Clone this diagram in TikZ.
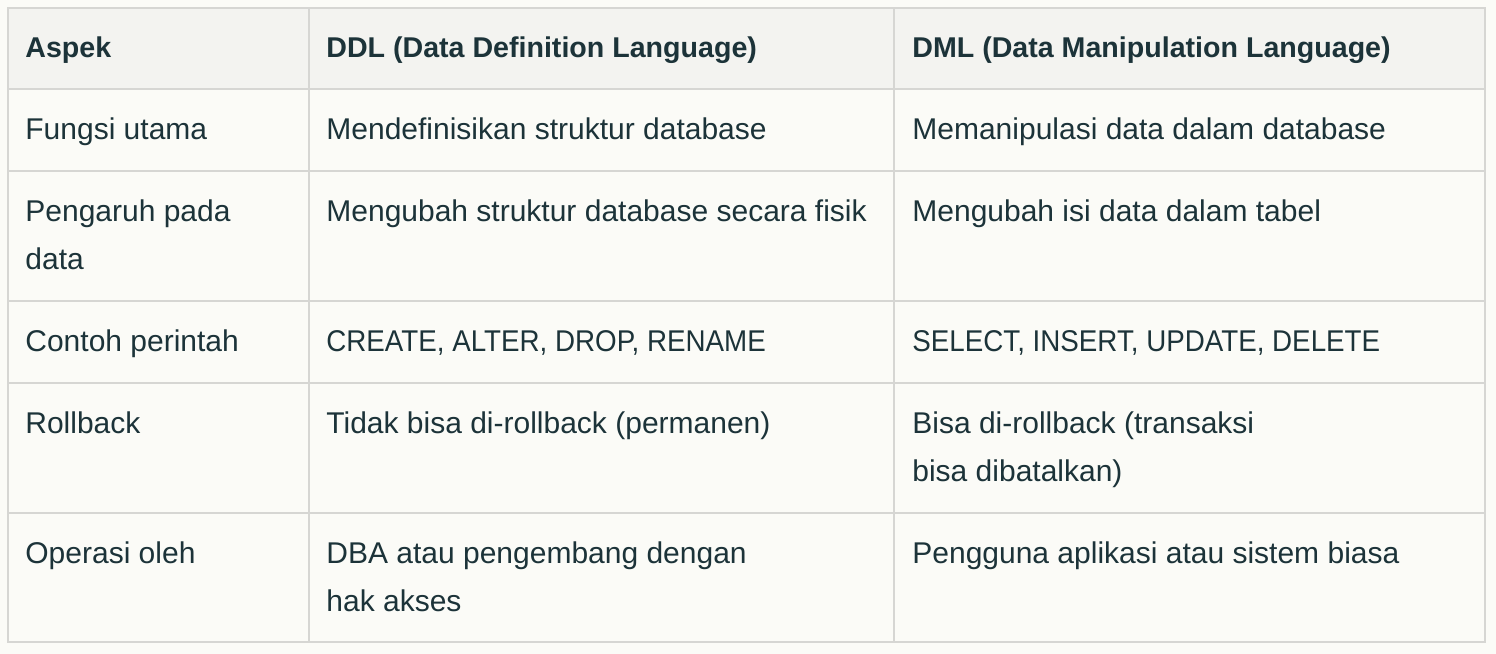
\documentclass[tikz,border=0pt]{standalone}
\usepackage{fontspec}
\setmainfont{Liberation Sans}
\definecolor{pagebg}{HTML}{FBFBF7}
\definecolor{headbg}{HTML}{F3F3F0}
\definecolor{gridc}{HTML}{D6D6D3}
\definecolor{txt}{HTML}{1C3339}
\begin{document}
\begin{tikzpicture}[x=0.5pt,y=-0.5pt,
  cell/.style={anchor=base west,inner sep=0pt,text=txt,font=\fontsize{15pt}{24pt}\selectfont},
  capscell/.style={cell,font=\fontsize{15pt}{24pt}\selectfont\addfontfeature{FakeStretch=0.925}},
  head/.style={anchor=base west,inner sep=0pt,text=txt,font=\fontsize{14.3pt}{24pt}\selectfont\bfseries},
  grid/.style={draw=gridc,line width=1pt}]
\useasboundingbox (0,0) rectangle (1496,654);
\fill[pagebg] (0,0) rectangle (1496,654);
\fill[headbg] (8,8) rectangle (1485,89);
% grid
\draw[grid] (8,8) rectangle (1485,642);
\foreach \yy in {89,171,301,383,513}{\draw[grid] (8,\yy) -- (1485,\yy);}
\draw[grid] (309,8) -- (309,642);
\draw[grid] (894,8) -- (894,642);
% header
\node[head] (h1) at (25,57) {Aspek};
\node[head] (h2) at (326,57) {DDL (Data Definition Language)};
\node[head] (h3) at (912,57) {DML (Data Manipulation Language)};
% row 1
\node[cell] (a1) at (25,139) {Fungsi utama};
\node[cell] (b1) at (326,139) {Mendefinisikan struktur database};
\node[cell] (c1) at (912,139) {Memanipulasi data dalam database};
% row 2
\node[cell] (a2) at (25,221) {Pengaruh pada};
\node[cell] (a2b) at (25,269) {data};
\node[cell] (b2) at (326,221) {Mengubah struktur database secara fisik};
\node[cell] (c2) at (912,221) {Mengubah isi data dalam tabel};
% row 3
\node[cell] (a3) at (25,351) {Contoh perintah};
\node[capscell] (b3) at (326,351) {CREATE, ALTER, DROP, RENAME};
\node[capscell] (c3) at (912,351) {SELECT, INSERT, UPDATE, DELETE};
% row 4
\node[cell] (a4) at (25,433) {Rollback};
\node[cell] (b4) at (326,433) {Tidak bisa di-rollback (permanen)};
\node[cell] (c4) at (912,433) {Bisa di-rollback (transaksi};
\node[cell] (c4b) at (912,481) {bisa dibatalkan)};
% row 5
\node[cell] (a5) at (25,563) {Operasi oleh};
\node[cell] (b5) at (326,563) {DBA atau pengembang dengan};
\node[cell] (b5b) at (326,611) {hak akses};
\node[cell] (c5) at (912,563) {Pengguna aplikasi atau sistem biasa};
\end{tikzpicture}
\end{document}
